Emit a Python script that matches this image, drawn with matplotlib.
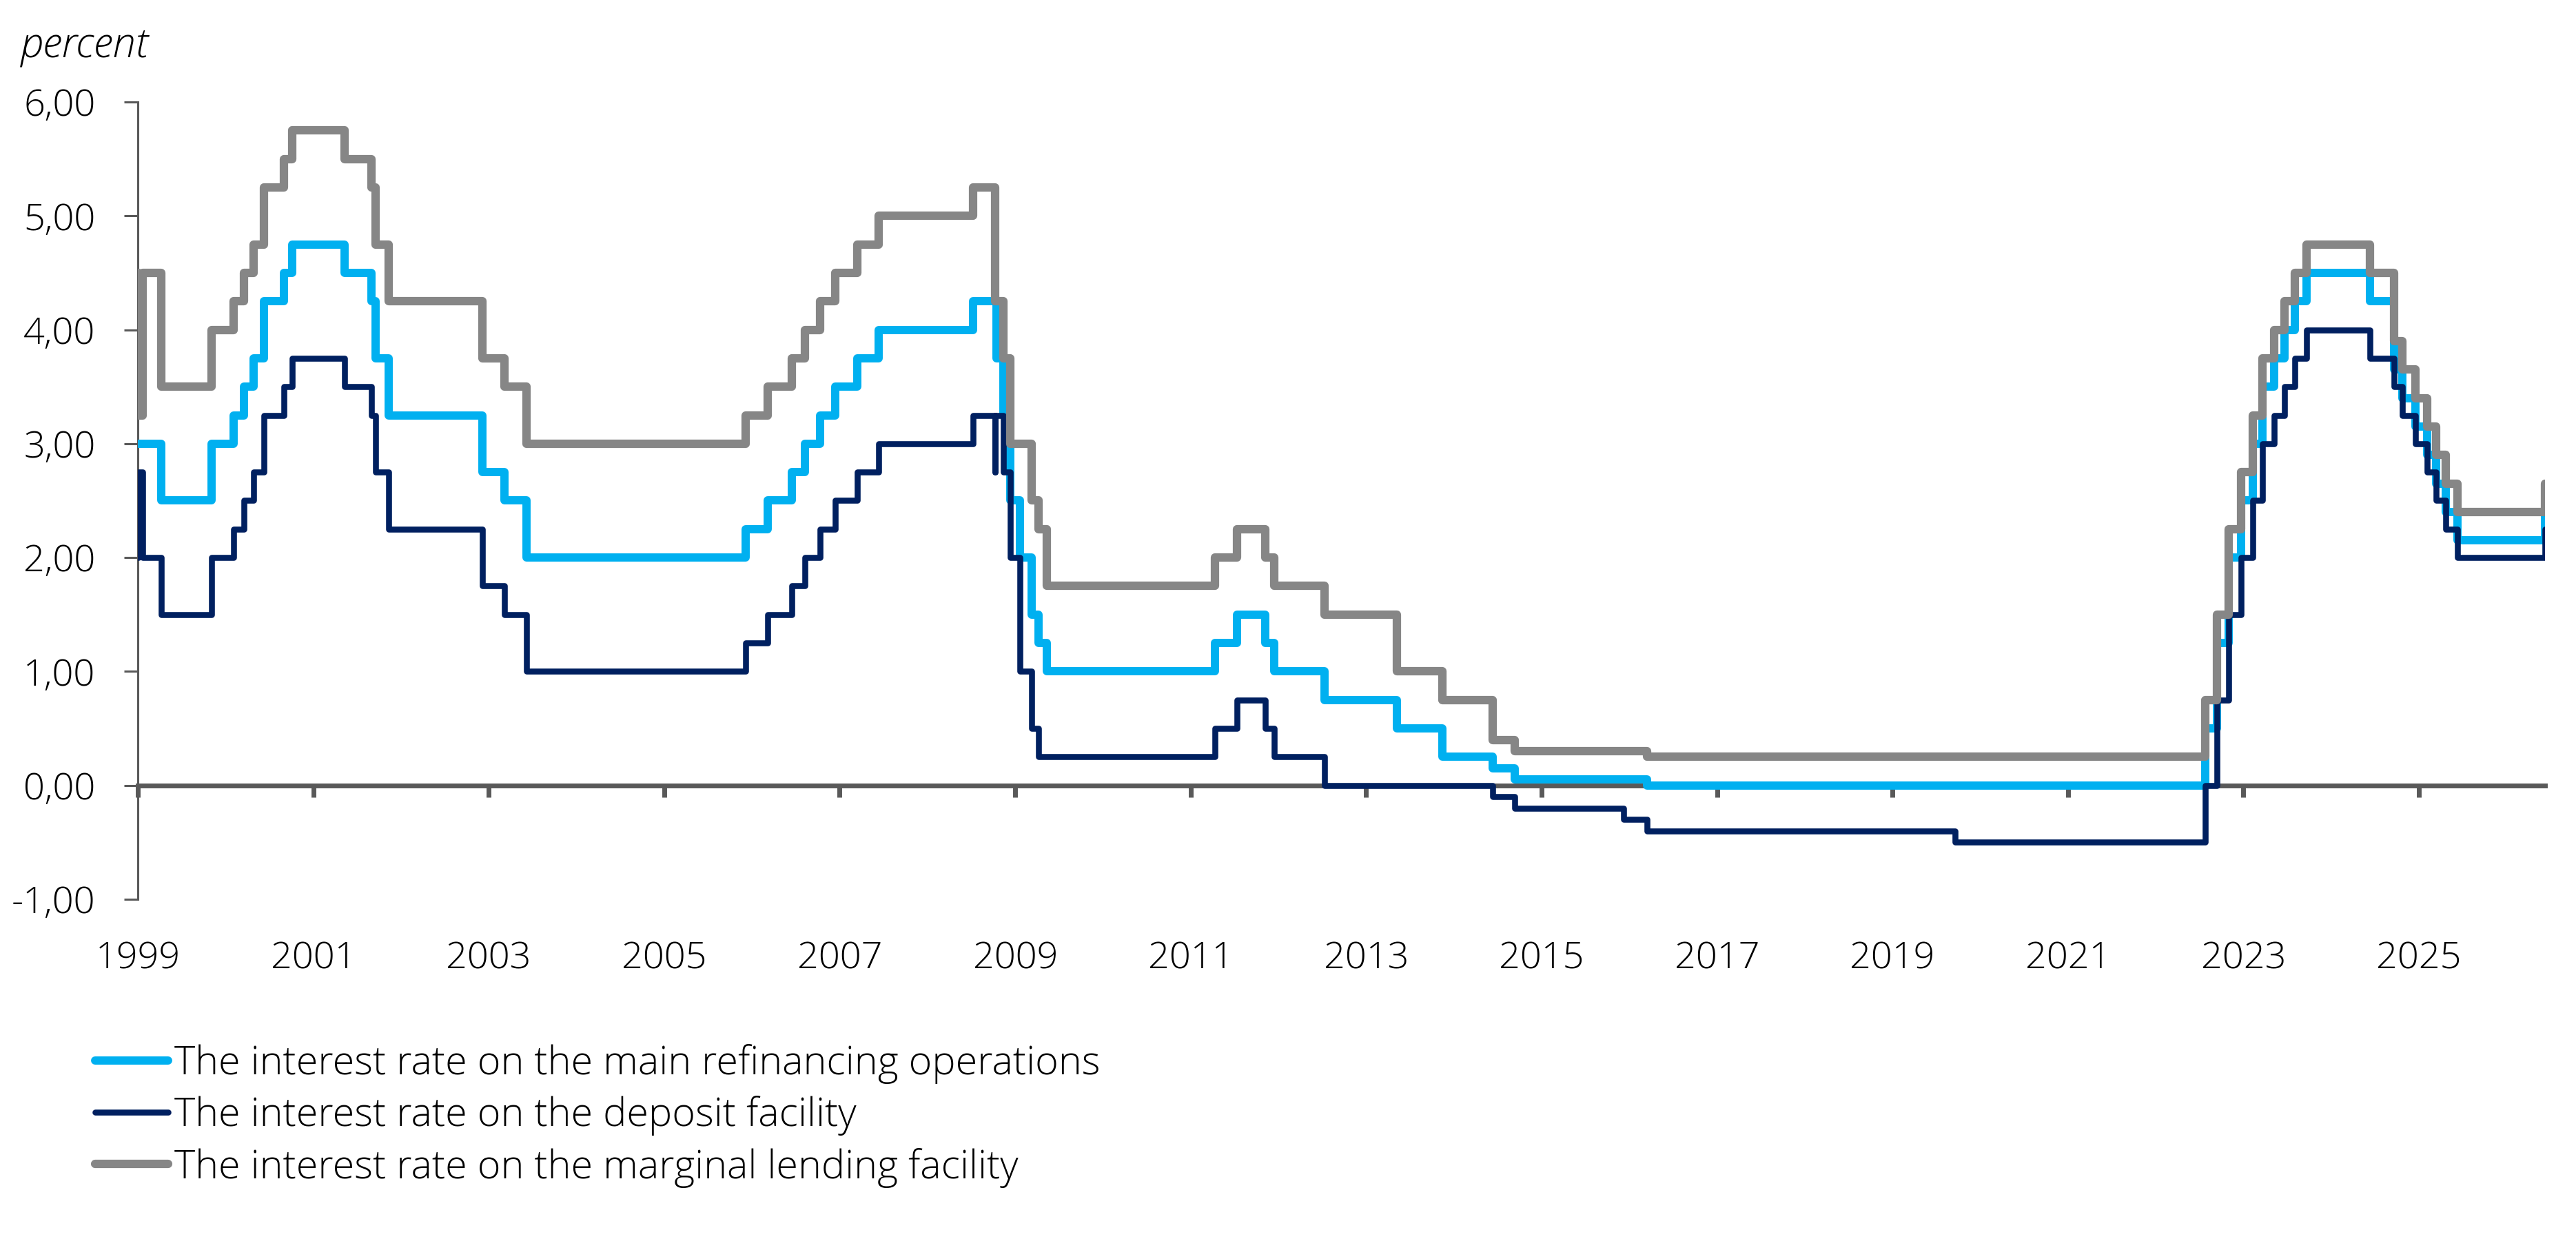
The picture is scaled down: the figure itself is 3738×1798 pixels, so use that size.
import numpy as np
import matplotlib
import matplotlib.pyplot as plt
from matplotlib.ticker import FuncFormatter

matplotlib.use('Agg')

plt.rcParams['font.family'] = ['Open Sans', 'DejaVu Sans']
plt.rcParams['font.weight'] = 'light'

# datas das decisões do BCE e taxas em vigor a partir de cada data
datas = np.array([
    '1999-01-01', '1999-01-04', '1999-01-22', '1999-04-09', '1999-11-05',
    '2000-02-04', '2000-03-17', '2000-04-28', '2000-06-09', '2000-09-01',
    '2000-10-06', '2001-05-11', '2001-08-31', '2001-09-18', '2001-11-09',
    '2002-12-06', '2003-03-07', '2003-06-06', '2005-12-06', '2006-03-08',
    '2006-06-15', '2006-08-09', '2006-10-11', '2006-12-13', '2007-03-14',
    '2007-06-13', '2008-07-09', '2008-10-08', '2008-10-09', '2008-10-15',
    '2008-11-12', '2008-12-10', '2009-01-21', '2009-03-11', '2009-04-08',
    '2009-05-13', '2011-04-13', '2011-07-13', '2011-11-09', '2011-12-14',
    '2012-07-11', '2013-05-08', '2013-11-13', '2014-06-11', '2014-09-10',
    '2015-12-09', '2016-03-16', '2019-09-18', '2022-07-27', '2022-09-14',
    '2022-11-02', '2022-12-21', '2023-02-08', '2023-03-22', '2023-05-10',
    '2023-06-21', '2023-08-02', '2023-09-20', '2024-06-12', '2024-09-18',
    '2024-10-23', '2024-12-18', '2025-02-05', '2025-03-12', '2025-04-23',
    '2025-06-11', '2026-06-10'], dtype='datetime64[D]')

mro = [3.00, 3.00, 3.00, 2.50, 3.00,
       3.25, 3.50, 3.75, 4.25, 4.50,
       4.75, 4.50, 4.25, 3.75, 3.25,
       2.75, 2.50, 2.00, 2.25, 2.50,
       2.75, 3.00, 3.25, 3.50, 3.75,
       4.00, 4.25, 4.25, 4.25, 3.75,
       3.25, 2.50, 2.00, 1.50, 1.25,
       1.00, 1.25, 1.50, 1.25, 1.00,
       0.75, 0.50, 0.25, 0.15, 0.05,
       0.05, 0.00, 0.00, 0.50, 1.25,
       2.00, 2.50, 3.00, 3.50, 3.75,
       4.00, 4.25, 4.50, 4.25, 3.65,
       3.40, 3.15, 2.90, 2.65, 2.40,
       2.15, 2.40]

deposito = [2.00, 2.75, 2.00, 1.50, 2.00,
            2.25, 2.50, 2.75, 3.25, 3.50,
            3.75, 3.50, 3.25, 2.75, 2.25,
            1.75, 1.50, 1.00, 1.25, 1.50,
            1.75, 2.00, 2.25, 2.50, 2.75,
            3.00, 3.25, 2.75, 3.25, 3.25,
            2.75, 2.00, 1.00, 0.50, 0.25,
            0.25, 0.50, 0.75, 0.50, 0.25,
            0.00, 0.00, 0.00, -0.10, -0.20,
            -0.30, -0.40, -0.50, 0.00, 0.75,
            1.50, 2.00, 2.50, 3.00, 3.25,
            3.50, 3.75, 4.00, 3.75, 3.50,
            3.25, 3.00, 2.75, 2.50, 2.25,
            2.00, 2.25]

marginal = [4.50, 3.25, 4.50, 3.50, 4.00,
            4.25, 4.50, 4.75, 5.25, 5.50,
            5.75, 5.50, 5.25, 4.75, 4.25,
            3.75, 3.50, 3.00, 3.25, 3.50,
            3.75, 4.00, 4.25, 4.50, 4.75,
            5.00, 5.25, 4.75, 4.25, 4.25,
            3.75, 3.00, 3.00, 2.50, 2.25,
            1.75, 2.00, 2.25, 2.00, 1.75,
            1.50, 1.00, 0.75, 0.40, 0.30,
            0.30, 0.25, 0.25, 0.75, 1.50,
            2.25, 2.75, 3.25, 3.75, 4.00,
            4.25, 4.50, 4.75, 4.50, 3.90,
            3.65, 3.40, 3.15, 2.90, 2.65,
            2.40, 2.65]

anos = ['1999', '2001', '2003', '2005', '2007', '2009', '2011', '2013',
        '2015', '2017', '2019', '2021', '2023', '2025']
nomes = ['The interest rate on the main refinancing operations',
         'The interest rate on the deposit facility',
         'The interest rate on the marginal lending facility']

cinza_eixo = '#595959'
fonte = 19.5

fig = plt.figure(figsize=(18.69, 8.99), dpi=200)
ax = fig.add_axes([0.0535, 0.2742, 0.9345, 0.6435])

estilo = dict(where='post', solid_joinstyle='round', solid_capstyle='round')
ax.step(datas, mro, color='#00B0F0', lw=4.3, zorder=3, label=nomes[0], **estilo)
ax.step(datas, deposito, color='#002060', lw=3.1, zorder=4, label=nomes[1], **estilo)
ax.step(datas, marginal, color='#868686', lw=4.4, zorder=5, label=nomes[2], **estilo)

ax.set_xlim(datas[0], datas[-1])
ax.set_ylim(-1, 6)
ax.set_yticks(np.arange(-1, 7, 1))
ax.yaxis.set_major_formatter(FuncFormatter(lambda v, p: f'{v:.2f}'.replace('.', ',')))

marcas = np.array([a + '-01-01' for a in anos], dtype='datetime64[D]')
ax.set_xticks(marcas)
ax.set_xticklabels(anos)

for lado in ['top', 'right']:
    ax.spines[lado].set_visible(False)
ax.spines['left'].set_color(cinza_eixo)
ax.spines['left'].set_linewidth(1.1)
ax.spines['bottom'].set_position(('data', 0))
ax.spines['bottom'].set_color(cinza_eixo)
ax.spines['bottom'].set_linewidth(2.5)

ax.tick_params(axis='y', direction='out', length=7.2, width=1.1, color=cinza_eixo,
               pad=15, labelsize=fonte, labelcolor='black')
ax.tick_params(axis='x', direction='out', length=6, width=2.5, color=cinza_eixo,
               pad=75, labelsize=fonte, labelcolor='black')

fig.text(30 / 3738, 1 - 67 / 1798, 'percent', style='italic', fontsize=21.5,
         ha='left', va='center')

ax.legend(loc='upper left', bbox_to_anchor=(138 / 3738, 1 - 1515 / 1798),
          bbox_transform=fig.transFigure, frameon=False, fontsize=20.7,
          handlelength=1.85, handletextpad=0.15, labelspacing=0.3,
          borderpad=0, borderaxespad=0)

plt.savefig('out.png', dpi=200)
